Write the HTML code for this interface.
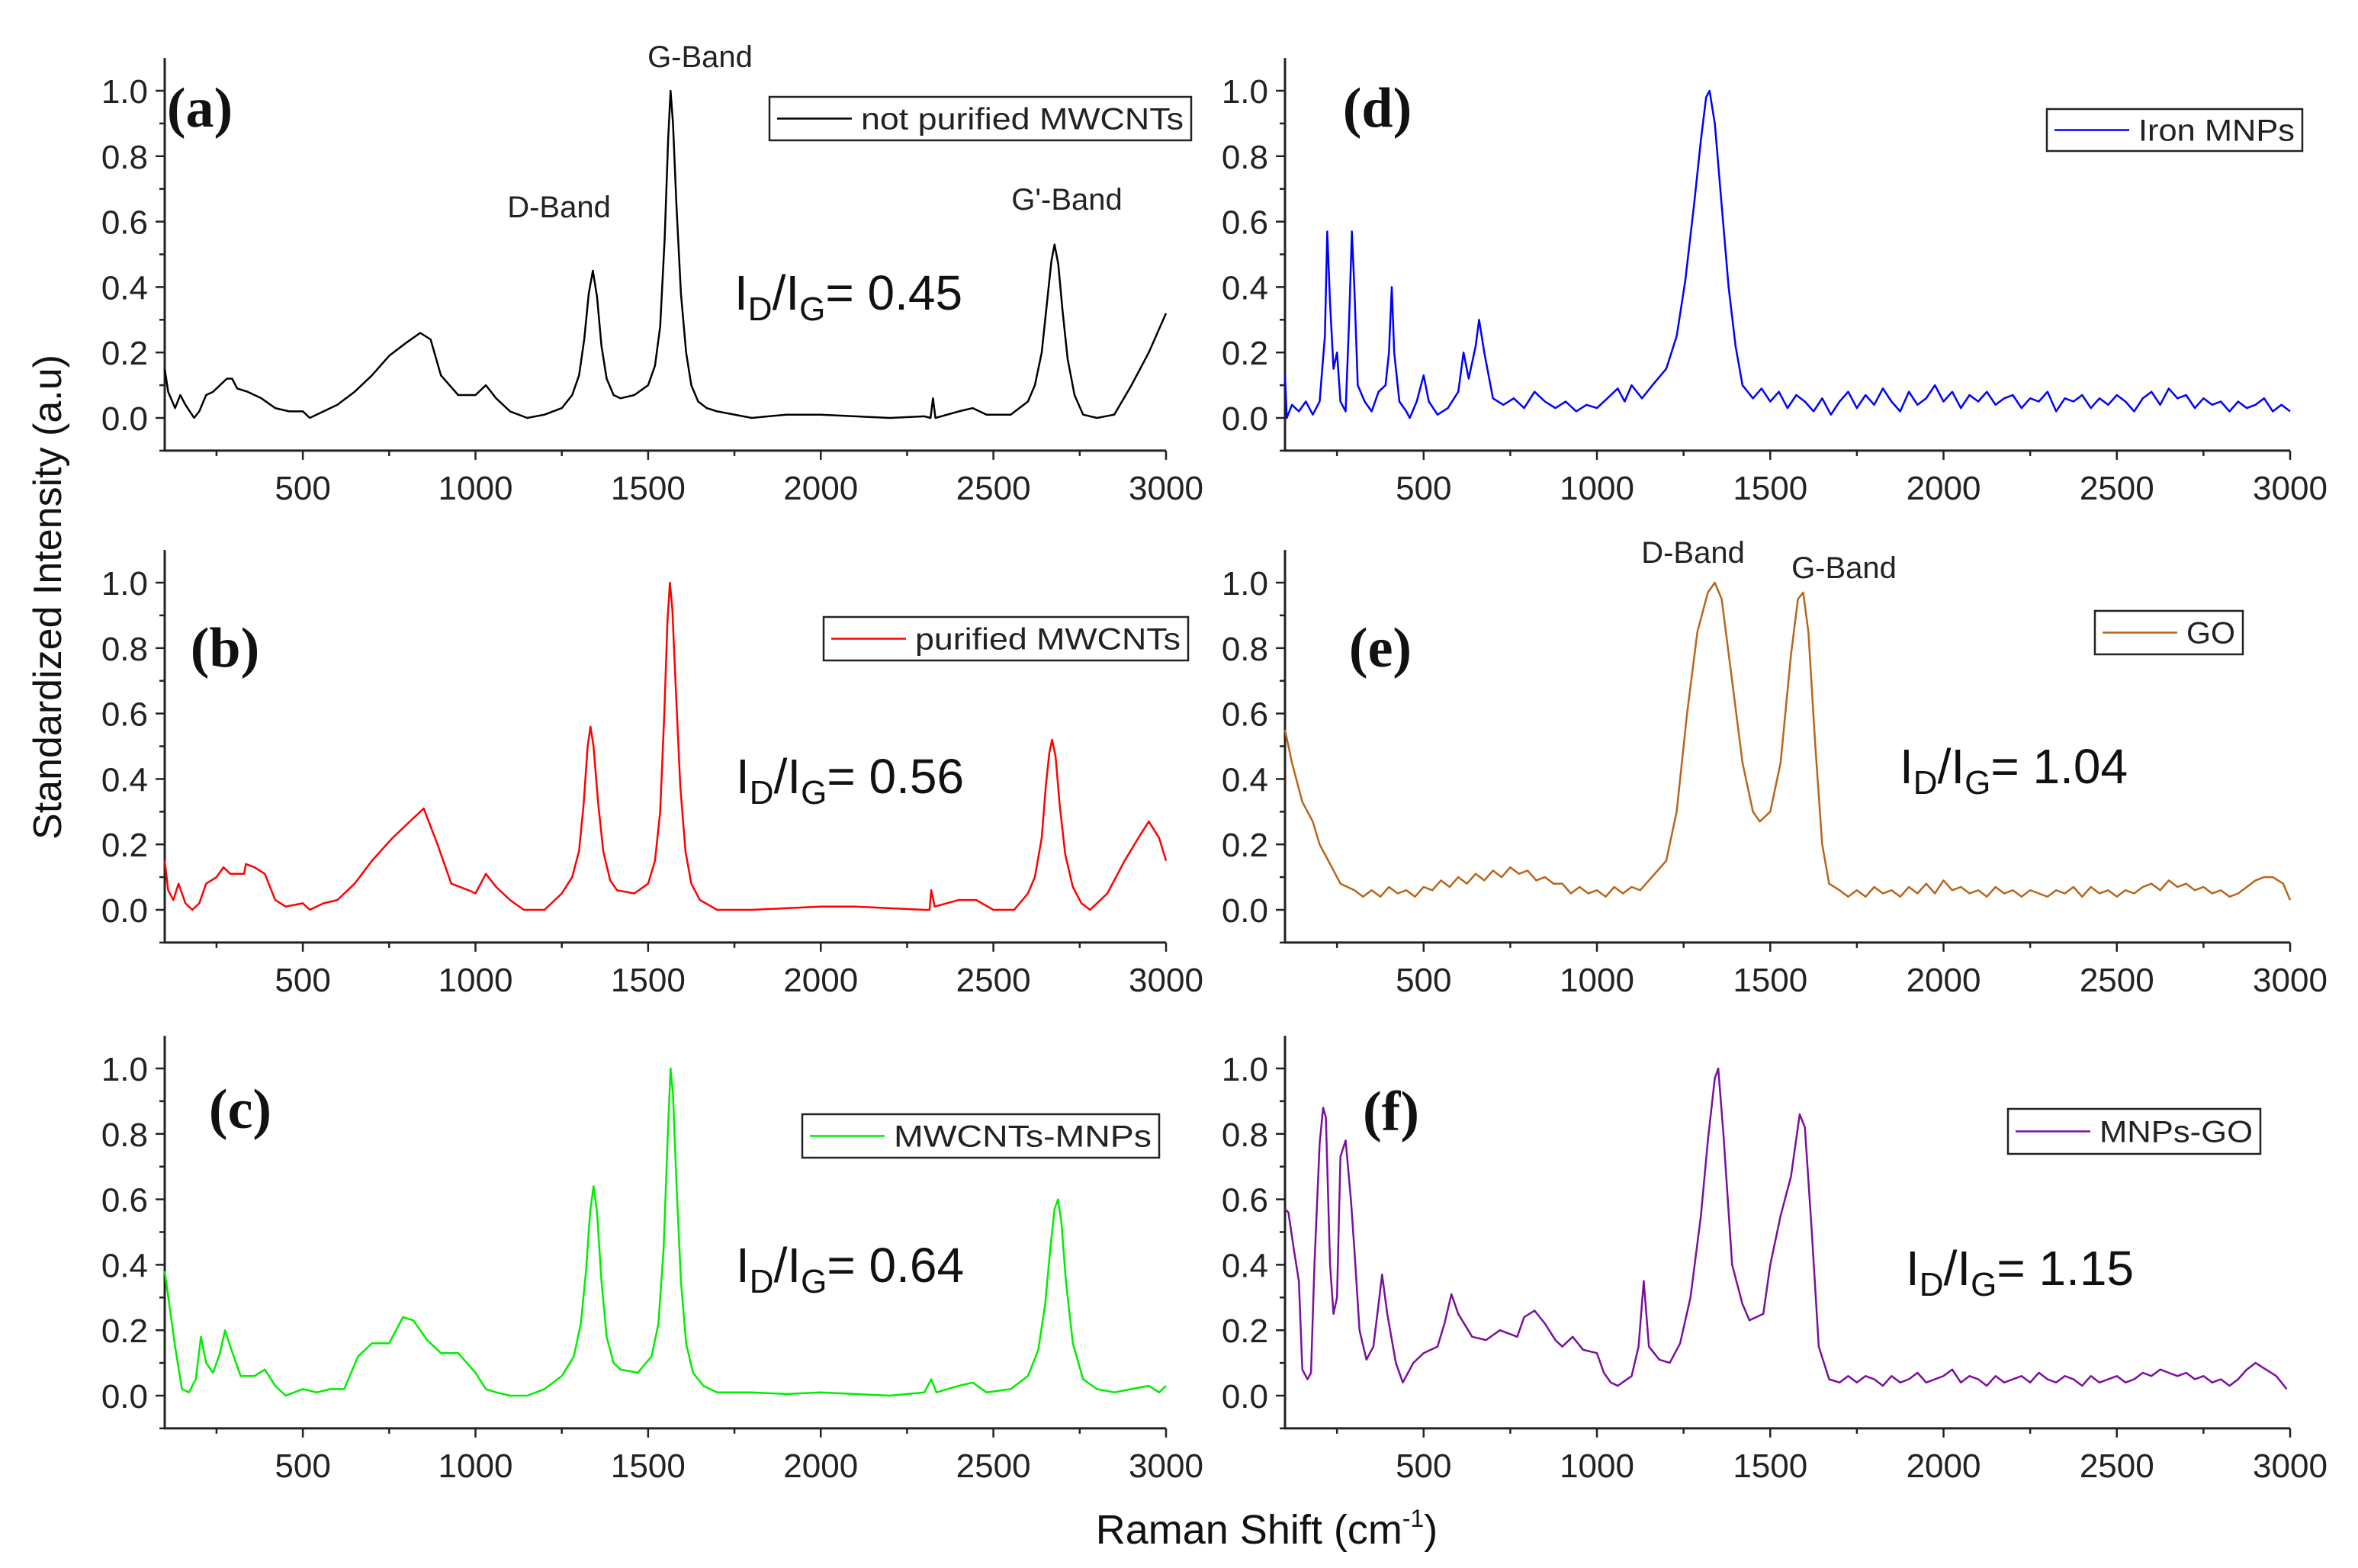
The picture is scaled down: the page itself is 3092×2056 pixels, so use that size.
<!DOCTYPE html>
<html><head><meta charset="utf-8">
<style>
html,body{margin:0;padding:0;background:#fff;}
svg{display:block;font-family:"Liberation Sans",sans-serif;}
</style></head>
<body>
<svg id="fig" width="3092" height="2056" viewBox="0 0 3092 2056" xmlns="http://www.w3.org/2000/svg">
<text x="0" y="0" transform="translate(80,783) rotate(-90)" text-anchor="middle" font-size="52" fill="#111">Standardized Intensity (a.u)</text>
<text x="1661" y="2024" text-anchor="middle" font-size="54" fill="#111">Raman Shift (cm<tspan dy="-22" font-size="32">-1</tspan><tspan dy="22">)</tspan></text>
</svg>
<script>
const xTicks=[500,1000,1500,2000,2500,3000];
const yTicks=[0.0,0.2,0.4,0.6,0.8,1.0];
const aX=[100,110,130,145,160,185,200,220,240,260,280,295,310,340,380,420,460,500,520,560,600,650,700,750,800,840,870,900,950,1000,1030,1060,1100,1150,1200,1250,1280,1300,1315,1328,1340,1352,1365,1380,1400,1420,1460,1500,1520,1535,1548,1558,1565,1572,1582,1595,1610,1625,1645,1670,1700,1800,1900,2000,2100,2200,2300,2318,2325,2332,2400,2440,2480,2550,2600,2620,2640,2655,2668,2677,2688,2700,2715,2735,2760,2800,2850,2900,2950,3000];
const aY=[0.15,0.08,0.03,0.07,0.04,0.0,0.02,0.07,0.08,0.1,0.12,0.12,0.09,0.08,0.06,0.03,0.02,0.02,0.0,0.02,0.04,0.08,0.13,0.19,0.23,0.26,0.24,0.13,0.07,0.07,0.1,0.06,0.02,0.0,0.01,0.03,0.07,0.13,0.24,0.38,0.45,0.37,0.22,0.12,0.07,0.06,0.07,0.1,0.16,0.28,0.55,0.85,1.0,0.9,0.65,0.38,0.2,0.1,0.05,0.03,0.02,0.0,0.01,0.01,0.005,0.0,0.005,0.0,0.06,0.0,0.02,0.03,0.01,0.01,0.05,0.1,0.2,0.35,0.48,0.53,0.47,0.33,0.18,0.07,0.01,0.0,0.01,0.1,0.2,0.32];
const bX=[100,110,125,140,160,180,200,220,250,270,290,310,330,335,360,390,420,450,500,520,560,600,650,700,760,800,850,890,930,980,1000,1030,1060,1100,1140,1200,1250,1280,1300,1313,1325,1333,1342,1355,1370,1390,1410,1460,1500,1520,1535,1547,1556,1563,1570,1580,1593,1608,1625,1650,1700,1800,1900,2000,2100,2200,2300,2315,2320,2330,2400,2450,2500,2560,2600,2620,2640,2652,2662,2670,2680,2692,2708,2730,2755,2780,2830,2880,2920,2950,2980,3000];
const bY=[0.15,0.06,0.03,0.08,0.02,0.0,0.02,0.08,0.1,0.13,0.11,0.11,0.11,0.14,0.13,0.11,0.03,0.01,0.02,0.0,0.02,0.03,0.08,0.15,0.22,0.26,0.31,0.2,0.08,0.06,0.05,0.11,0.07,0.03,0.0,0.0,0.05,0.1,0.18,0.32,0.5,0.56,0.5,0.33,0.18,0.09,0.06,0.05,0.08,0.15,0.3,0.6,0.88,1.0,0.92,0.68,0.38,0.18,0.08,0.03,0.0,0.0,0.005,0.01,0.01,0.005,0.0,0.0,0.06,0.01,0.03,0.03,0.0,0.0,0.05,0.1,0.22,0.38,0.48,0.52,0.47,0.32,0.17,0.07,0.02,0.0,0.05,0.15,0.22,0.27,0.22,0.15];
const cX=[100,130,150,170,190,205,220,240,260,275,290,320,360,390,420,450,500,540,580,620,660,700,750,790,820,860,900,950,1000,1030,1060,1100,1150,1200,1250,1285,1305,1320,1332,1342,1352,1365,1380,1400,1420,1470,1510,1530,1545,1557,1565,1572,1582,1595,1610,1630,1660,1700,1800,1900,2000,2100,2200,2300,2320,2335,2400,2440,2480,2550,2600,2630,2650,2665,2677,2687,2697,2710,2730,2760,2800,2850,2900,2950,2980,3000];
const cY=[0.38,0.15,0.02,0.01,0.05,0.18,0.1,0.07,0.13,0.2,0.15,0.06,0.06,0.08,0.03,0.0,0.02,0.01,0.02,0.02,0.12,0.16,0.16,0.24,0.23,0.17,0.13,0.13,0.07,0.02,0.01,0.0,0.0,0.02,0.06,0.12,0.22,0.38,0.56,0.64,0.56,0.35,0.18,0.1,0.08,0.07,0.12,0.22,0.45,0.8,1.0,0.92,0.65,0.35,0.16,0.07,0.03,0.01,0.01,0.005,0.01,0.005,0.0,0.01,0.05,0.01,0.03,0.04,0.01,0.02,0.06,0.14,0.28,0.45,0.57,0.6,0.53,0.35,0.16,0.05,0.02,0.01,0.02,0.03,0.01,0.03];
const dX=[100,105,120,140,160,180,200,215,222,230,240,250,260,275,285,293,300,310,330,350,370,390,400,408,415,430,450,460,480,500,515,540,570,600,615,630,650,660,675,700,730,760,790,820,850,880,910,940,970,1000,1030,1060,1080,1100,1130,1160,1200,1230,1255,1280,1300,1315,1325,1340,1360,1380,1400,1420,1450,1475,1500,1525,1550,1575,1600,1625,1650,1675,1700,1725,1750,1775,1800,1825,1850,1875,1900,1925,1950,1975,2000,2025,2050,2075,2100,2125,2150,2175,2200,2225,2250,2275,2300,2325,2350,2375,2400,2425,2450,2475,2500,2525,2550,2575,2600,2625,2650,2675,2700,2725,2750,2775,2800,2825,2850,2875,2900,2925,2950,2975,3000];
const dY=[0.13,0.0,0.04,0.02,0.05,0.01,0.05,0.25,0.57,0.35,0.15,0.2,0.05,0.02,0.3,0.57,0.4,0.1,0.05,0.02,0.08,0.1,0.2,0.4,0.2,0.05,0.02,0.0,0.05,0.13,0.05,0.01,0.03,0.08,0.2,0.12,0.22,0.3,0.2,0.06,0.04,0.06,0.03,0.08,0.05,0.03,0.05,0.02,0.04,0.03,0.06,0.09,0.05,0.1,0.06,0.1,0.15,0.25,0.42,0.65,0.85,0.98,1.0,0.9,0.65,0.4,0.22,0.1,0.06,0.09,0.05,0.08,0.03,0.07,0.05,0.02,0.06,0.01,0.05,0.08,0.03,0.07,0.04,0.09,0.05,0.02,0.08,0.04,0.06,0.1,0.05,0.08,0.03,0.07,0.05,0.08,0.04,0.06,0.07,0.03,0.06,0.05,0.08,0.02,0.06,0.05,0.07,0.03,0.06,0.04,0.07,0.05,0.02,0.06,0.08,0.04,0.09,0.06,0.07,0.03,0.06,0.04,0.05,0.02,0.05,0.03,0.04,0.06,0.02,0.04,0.02];
const eX=[100,120,150,180,200,230,260,300,325,350,375,400,425,450,475,500,525,550,575,600,625,650,675,700,725,750,775,800,825,850,875,900,925,950,975,1000,1025,1050,1075,1100,1125,1150,1200,1230,1260,1290,1320,1340,1360,1390,1420,1450,1470,1500,1530,1560,1580,1595,1610,1630,1650,1670,1700,1725,1750,1775,1800,1825,1850,1875,1900,1925,1950,1975,2000,2025,2050,2075,2100,2125,2150,2175,2200,2225,2250,2275,2300,2325,2350,2375,2400,2425,2450,2475,2500,2525,2550,2575,2600,2625,2650,2675,2700,2725,2750,2775,2800,2825,2850,2875,2900,2925,2950,2980,3000];
const eY=[0.55,0.45,0.33,0.27,0.2,0.14,0.08,0.06,0.04,0.06,0.04,0.07,0.05,0.06,0.04,0.07,0.06,0.09,0.07,0.1,0.08,0.11,0.09,0.12,0.1,0.13,0.11,0.12,0.09,0.1,0.08,0.08,0.05,0.07,0.05,0.06,0.04,0.07,0.05,0.07,0.06,0.09,0.15,0.3,0.6,0.85,0.97,1.0,0.95,0.7,0.45,0.3,0.27,0.3,0.45,0.78,0.95,0.97,0.85,0.5,0.2,0.08,0.06,0.04,0.06,0.04,0.07,0.05,0.06,0.04,0.07,0.05,0.08,0.05,0.09,0.06,0.07,0.05,0.06,0.04,0.07,0.05,0.06,0.04,0.06,0.05,0.04,0.06,0.05,0.07,0.04,0.07,0.05,0.06,0.04,0.06,0.05,0.07,0.08,0.06,0.09,0.07,0.08,0.06,0.07,0.05,0.06,0.04,0.05,0.07,0.09,0.1,0.1,0.08,0.03];
const fX=[100,110,125,140,150,165,175,185,200,210,218,230,240,250,260,275,290,300,315,335,355,370,380,395,420,440,470,500,540,560,580,600,640,680,720,770,790,820,850,880,900,930,960,1000,1020,1040,1060,1100,1120,1135,1150,1180,1210,1240,1270,1300,1320,1340,1350,1365,1390,1420,1440,1480,1500,1530,1560,1585,1600,1620,1640,1670,1700,1725,1750,1775,1800,1825,1850,1875,1900,1925,1950,1975,2000,2025,2050,2075,2100,2125,2150,2175,2200,2225,2250,2275,2300,2325,2350,2375,2400,2425,2450,2475,2500,2525,2550,2575,2600,2625,2650,2675,2700,2725,2750,2775,2800,2825,2850,2875,2900,2930,2960,2990,3000];
const fY=[0.57,0.56,0.45,0.35,0.08,0.05,0.07,0.4,0.77,0.88,0.85,0.4,0.25,0.3,0.73,0.78,0.6,0.45,0.2,0.11,0.15,0.28,0.37,0.25,0.1,0.04,0.1,0.13,0.15,0.22,0.31,0.25,0.18,0.17,0.2,0.18,0.24,0.26,0.22,0.17,0.15,0.18,0.14,0.13,0.07,0.04,0.03,0.06,0.15,0.35,0.15,0.11,0.1,0.16,0.3,0.55,0.78,0.97,1.0,0.8,0.4,0.28,0.23,0.25,0.4,0.55,0.67,0.86,0.82,0.5,0.15,0.05,0.04,0.06,0.04,0.06,0.05,0.03,0.06,0.04,0.05,0.07,0.04,0.05,0.06,0.08,0.04,0.06,0.05,0.03,0.06,0.04,0.05,0.06,0.04,0.07,0.05,0.04,0.06,0.05,0.03,0.06,0.04,0.05,0.06,0.04,0.05,0.07,0.06,0.08,0.07,0.06,0.07,0.05,0.06,0.04,0.05,0.03,0.05,0.08,0.1,0.08,0.06,0.02];

const NS="http://www.w3.org/2000/svg";
const svg=document.getElementById('fig');
function el(tag,attrs,parent){const e=document.createElementNS(NS,tag);for(const k in attrs)e.setAttribute(k,attrs[k]);(parent||svg).appendChild(e);return e;}
const cols=[{x0:216,x1:1529},{x0:1685,x1:3003}];
const rows=[119,764,1401];
const UNIT=429;
const panels=[
 {c:0,r:0,xs:aX,ys:aY,color:"#000000",label:"(a)",lx:262,ly:166,leg:"not purified MWCNTs",bx:1009,by:127,bw:553,bh:57,ratio:"0.45",rx:963,ry:406,name:"panel-a"},
 {c:0,r:1,xs:bX,ys:bY,color:"#ff0000",label:"(b)",lx:295,ly:874,leg:"purified MWCNTs",bx:1080,by:809,bw:478,bh:57,ratio:"0.56",rx:965,ry:1040,name:"panel-b"},
 {c:0,r:2,xs:cX,ys:cY,color:"#00ee00",label:"(c)",lx:315,ly:1479,leg:"MWCNTs-MNPs",bx:1052,by:1461,bw:468,bh:57,ratio:"0.64",rx:965,ry:1681,name:"panel-c"},
 {c:1,r:0,xs:dX,ys:dY,color:"#0000ff",label:"(d)",lx:1806,ly:166,leg:"Iron MNPs",bx:2684,by:143,bw:335,bh:55,ratio:null,name:"panel-d"},
 {c:1,r:1,xs:eX,ys:eY,color:"#b8651b",label:"(e)",lx:1810,ly:874,leg:"GO",bx:2747,by:801,bw:194,bh:57,ratio:"1.04",rx:2491,ry:1027,name:"panel-e"},
 {c:1,r:2,xs:fX,ys:fY,color:"#7a0f9e",label:"(f)",lx:1824,ly:1482,leg:"MNPs-GO",bx:2633,by:1454,bw:331,bh:59,ratio:"1.15",rx:2499,ry:1685,name:"panel-f"}
];
panels.forEach(p=>{
 const X0=cols[p.c].x0,X1=cols[p.c].x1,Y1=rows[p.r];
 const sx=v=>X0+(v-100)/(2900)*(X1-X0);
 const sy=v=>Y1+(1-v)*UNIT;
 const g=el('g',{});
 
 
 const top=sy(1.1),bot=sy(-0.1);
 const ya=el('line',{x1:X0,y1:top,x2:X0,y2:bot,stroke:'#222','stroke-width':3},g);
 
 
 const xa=el('line',{x1:X0-1.5,y1:bot,x2:X1,y2:bot,stroke:'#222','stroke-width':3},g);
 
 
 for(let v=0;v<=11;v++){const yy=sy(-0.1+v*0.1);const major=(v%2===1);
  el('line',{x1:X0,y1:yy,x2:X0-(major?12:7),y2:yy,stroke:'#222','stroke-width':2.5},g);}
 yTicks.forEach(t=>{const tx=el('text',{x:X0-22,y:sy(t)+16,'text-anchor':'end','font-size':44,fill:'#222'},g);tx.textContent=t.toFixed(1);
  
  });
 for(let v=250;v<=3000;v+=250){const xx=sx(v);const major=(v%500===0);
  el('line',{x1:xx,y1:bot,x2:xx,y2:bot+(major?12:7),stroke:'#222','stroke-width':2.5},g);}
 xTicks.forEach(t=>{const tx=el('text',{x:sx(t),y:bot+64,'text-anchor':'middle','font-size':44,fill:'#222'},g);tx.textContent=t;
  
  });
 let d='';p.xs.forEach((x,i)=>{d+=(i?'L':'M')+sx(x).toFixed(1)+','+sy(p.ys[i]).toFixed(1);});
 const path=el('path',{d:d,fill:'none',stroke:p.color,'stroke-width':2.5,'stroke-linejoin':'round'},g);
 
 
 const lab=el('text',{x:p.lx,y:p.ly,'text-anchor':'middle','font-size':74,'font-weight':'bold','font-family':'Liberation Serif, serif',fill:'#111'},g);
 lab.textContent=p.label;
 
 
 const lg=el('g',{},g);
 
 
 el('rect',{x:p.bx,y:p.by,width:p.bw,height:p.bh,fill:'#fff',stroke:'#222','stroke-width':2.5},lg);
 el('line',{x1:p.bx+10,y1:p.by+p.bh/2,x2:p.bx+108,y2:p.by+p.bh/2,stroke:p.color,'stroke-width':2.5},lg);
 const lt=el('text',{x:p.bx+p.bw-10,y:p.by+p.bh/2+14,'text-anchor':'end','font-size':40,fill:'#222','textLength':p.bw-130,'lengthAdjust':'spacingAndGlyphs'},lg);
 lt.textContent=p.leg;
 
 
 if(p.ratio){
  const rt=el('text',{x:p.rx,y:p.ry,'font-size':64,fill:'#111'},g);
  rt.innerHTML='I<tspan dy="14" font-size="44">D</tspan><tspan dy="-14">/I</tspan><tspan dy="14" font-size="44">G</tspan><tspan dy="-14">= '+p.ratio+'</tspan>';
  
  
 }
});
const bands=[["G-Band",918,88],["D-Band",733,285],["G'-Band",1399,275],["D-Band",2220,738],["G-Band",2418,758]];
bands.forEach(b=>{const t=el('text',{x:b[1],y:b[2],'text-anchor':'middle','font-size':40,fill:'#222'});t.textContent=b[0];
 
 });
</script>
</body></html>
